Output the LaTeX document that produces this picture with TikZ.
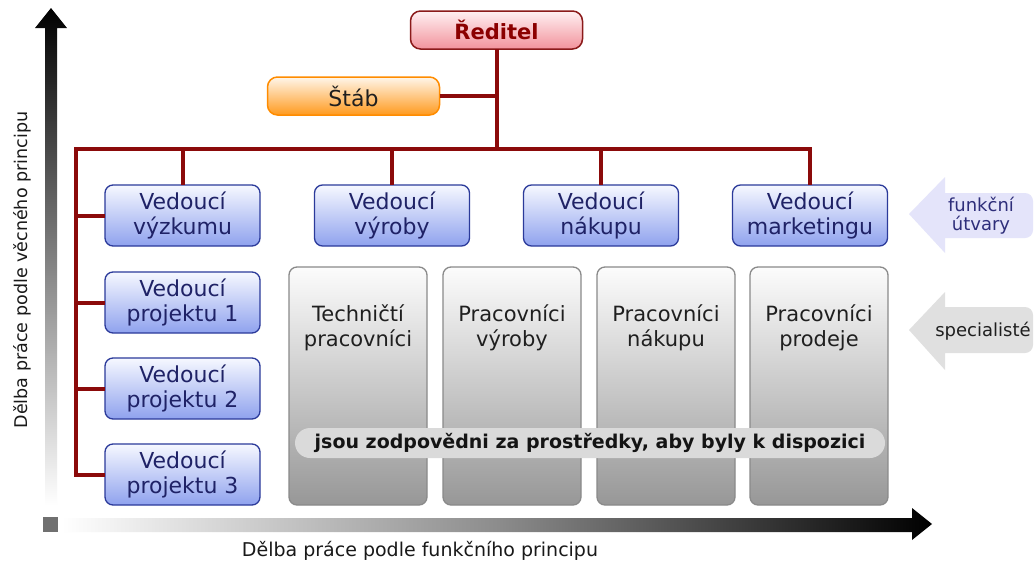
\documentclass[tikz,border=0pt]{standalone}
\usepackage{fontspec}
\setmainfont{DejaVu Sans}
\definecolor{redln}{HTML}{8B0A0A}
\definecolor{redbd}{HTML}{8B1A1A}
\definecolor{redtop}{HTML}{FFF0F2}
\definecolor{redbot}{HTML}{F2939C}
\definecolor{redtxt}{HTML}{8B0000}
\definecolor{orbd}{HTML}{FF8C00}
\definecolor{ortop}{HTML}{FFF6EA}
\definecolor{orbot}{HTML}{FF9A1E}
\definecolor{bluebd}{HTML}{2B3A9A}
\definecolor{bluetop}{HTML}{F6F8FF}
\definecolor{bluebot}{HTML}{8FA2EE}
\definecolor{bluetxt}{HTML}{1F2266}
\definecolor{graybd}{HTML}{8A8A8A}
\definecolor{graytop}{HTML}{FCFCFC}
\definecolor{graybot}{HTML}{979797}
\definecolor{bandc}{HTML}{DADADA}
\definecolor{lav}{HTML}{E4E4FA}
\definecolor{lavtxt}{HTML}{2E2E7A}
\definecolor{ltgray}{HTML}{E0E0E0}
\definecolor{sq}{HTML}{707070}
\begin{document}
\begin{tikzpicture}[x=1pt,y=-1pt,
  every node/.style={inner sep=0,outer sep=0},
  redline/.style={draw=redln,line width=4},
  topbox/.style={rounded corners=10,line width=1.5,minimum width=172,minimum height=38,align=center},
  bluebox/.style={draw=bluebd,line width=1.3,rounded corners=8,top color=bluetop,bottom color=bluebot,minimum width=155,minimum height=61,align=center,font=\fontsize{22}{25}\selectfont,text=bluetxt},
  graybox/.style={draw=graybd,line width=1.3,rounded corners=8,top color=graytop,bottom color=graybot,minimum width=138,minimum height=238},
  graytext/.style={align=center,font=\fontsize{21}{24.5}\selectfont,text=black!88},
  sidetext/.style={align=center,font=\fontsize{18}{19}\selectfont},
  axislabel/.style={font=\fontsize{19}{22}\selectfont,text=black!90}
]
\useasboundingbox (0,0) rectangle (1035,565);
\fill[white] (0,0) rectangle (1035,565);

% axes
\shade[top color=black,bottom color=white] (45,505) -- (45,28) -- (35,28) -- (51,8) -- (67,28) -- (57,28) -- (57,505) -- cycle;
\shade[left color=white,right color=black,middle color=black!45] (62,518) -- (912,518) -- (912,508) -- (932,524) -- (912,540) -- (912,532) -- (62,532) -- cycle;
\fill[sq] (43,517) rectangle (58,532);
\node[axislabel,rotate=90,font=\fontsize{17.5}{20}\selectfont] (vlab) at (22,270) {Dělba práce podle věcného principu};
\node[axislabel] (hlab) at (420,551) {Dělba práce podle funkčního principu};

% top
\node[topbox,draw=redbd,top color=redtop,bottom color=redbot,text=redtxt,font=\fontsize{21}{24}\selectfont\bfseries] (red) at (496.5,30) {Ředitel};
\node[topbox,draw=orbd,top color=ortop,bottom color=orbot,text=black!88,font=\fontsize{22}{24}\selectfont] (stab) at (353.5,96) {Štáb};

% functional heads
\node[bluebox] (vyz) at (182.5,215.5) {Vedoucí\\výzkumu};
\node[bluebox] (vyr) at (392,215.5) {Vedoucí\\výroby};
\node[bluebox] (nak) at (601,215.5) {Vedoucí\\nákupu};
\node[bluebox] (mkt) at (810,215.5) {Vedoucí\\marketingu};
\node[bluebox] (p1) at (182.5,302.5) {Vedoucí\\projektu 1};
\node[bluebox] (p2) at (182.5,388.5) {Vedoucí\\projektu 2};
\node[bluebox] (p3) at (182.5,474.5) {Vedoucí\\projektu 3};

% connectors
\coordinate (lt) at (76,149);
\draw[redline] (red.south) -- (red.south |- lt);
\draw[redline] (stab.east) -- (stab.east -| red.south);
\draw[redline,line join=miter] (mkt.north) -- (mkt.north |- lt) -- (lt) -- (lt |- p3.west) -- (p3.west);
\draw[redline] (vyz.north |- lt) -- (vyz.north);
\draw[redline] (vyr.north |- lt) -- (vyr.north);
\draw[redline] (nak.north |- lt) -- (nak.north);
\draw[redline] (lt |- vyz.west) -- (vyz.west);
\draw[redline] (lt |- p1.west) -- (p1.west);
\draw[redline] (lt |- p2.west) -- (p2.west);

% specialists
\node[graybox] (g1) at (358,386) {};
\node[graybox] (g2) at (512,386) {};
\node[graybox] (g3) at (666,386) {};
\node[graybox] (g4) at (819,386) {};
\node[graytext] (t1) at (g1 |- 0,328) {Techničtí\\pracovníci};
\node[graytext] (t2) at (g2 |- 0,328) {Pracovníci\\výroby};
\node[graytext] (t3) at (g3 |- 0,328) {Pracovníci\\nákupu};
\node[graytext] (t4) at (g4 |- 0,328) {Pracovníci\\prodeje};
\node[fill=bandc,rounded corners=15,minimum width=590,minimum height=30,font=\fontsize{19}{22}\selectfont\bfseries,text=black!92] (band) at (590,443) {jsou zodpovědni za prostředky, aby byly k dispozici};

% side arrows
\fill[lav] (909,214) -- (945,177) -- (945,193) -- (1025,193) to[out=0,in=90] (1033,201) -- (1033,230) to[out=-90,in=0] (1025,238) -- (945,238) -- (945,253) -- cycle;
\node[sidetext,text=lavtxt] (fu) at (981,216) {funkční\\útvary};
\fill[ltgray] (909,330) -- (945,292) -- (945,307) -- (1025,307) to[out=0,in=90] (1033,315) -- (1033,345) to[out=-90,in=0] (1025,353) -- (945,353) -- (945,370) -- cycle;
\node[sidetext,text=black!88] (sp) at (983,331) {specialisté};
\end{tikzpicture}
\end{document}
